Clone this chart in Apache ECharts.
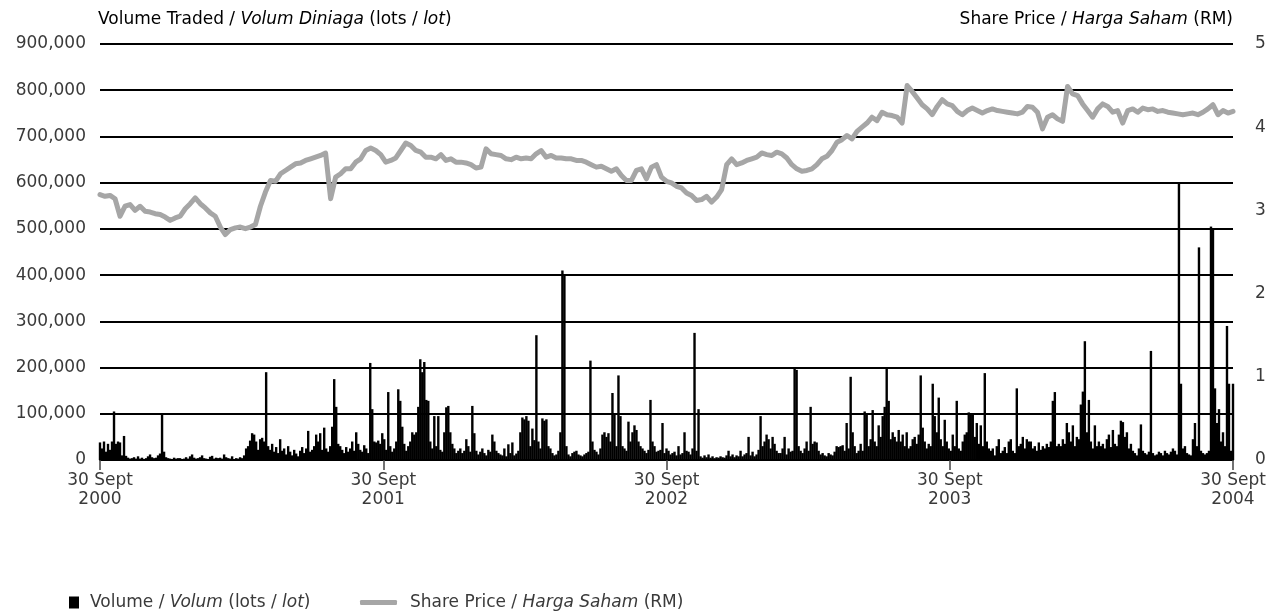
<!DOCTYPE html>
<html><head><meta charset="utf-8">
<script src="https://cdn.jsdelivr.net/npm/echarts@6.0.0/dist/echarts.min.js"></script>
<style>html,body{margin:0;padding:0;background:#fff}#c{width:1286px;height:614px}</style>
</head><body><div id="c"></div>
<script>
// x-axis tick labels (one per year)
const yearLabels = ['30 Sept\n2000', '30 Sept\n2001', '30 Sept\n2002', '30 Sept\n2003', '30 Sept\n2004'];

// Share price (RM), evenly spaced samples from 30 Sept 2000 to 30 Sept 2004
const priceRM = [
  3.19,3.17,3.18,3.14,2.93,3.05,3.07,3.00,3.05,2.99,
  2.98,2.96,2.95,2.92,2.88,2.91,2.93,3.02,3.08,3.15,
  3.08,3.03,2.97,2.93,2.80,2.71,2.77,2.79,2.80,2.78,
  2.80,2.83,3.05,3.22,3.36,3.35,3.44,3.48,3.52,3.56,
  3.57,3.60,3.62,3.64,3.66,3.69,3.14,3.40,3.44,3.50,
  3.50,3.58,3.62,3.72,3.75,3.72,3.67,3.58,3.60,3.63,
  3.72,3.81,3.78,3.72,3.70,3.64,3.64,3.62,3.67,3.60,
  3.62,3.58,3.58,3.57,3.55,3.51,3.52,3.74,3.68,3.67,
  3.66,3.62,3.61,3.64,3.62,3.63,3.62,3.68,3.72,3.64,
  3.66,3.63,3.63,3.62,3.62,3.60,3.60,3.58,3.55,3.52,
  3.53,3.50,3.47,3.50,3.42,3.36,3.36,3.48,3.50,3.38,
  3.52,3.55,3.40,3.35,3.33,3.29,3.27,3.21,3.18,3.12,
  3.13,3.17,3.10,3.16,3.25,3.55,3.62,3.55,3.57,3.60,
  3.62,3.64,3.69,3.67,3.66,3.70,3.68,3.63,3.55,3.50,
  3.47,3.48,3.50,3.55,3.62,3.65,3.72,3.82,3.85,3.90,
  3.86,3.95,4.00,4.05,4.12,4.08,4.18,4.15,4.14,4.12,
  4.05,4.50,4.43,4.35,4.27,4.22,4.15,4.25,4.33,4.28,
  4.26,4.19,4.15,4.20,4.23,4.20,4.17,4.20,4.22,4.20,
  4.19,4.18,4.17,4.16,4.18,4.25,4.24,4.18,3.98,4.12,
  4.15,4.10,4.07,4.49,4.40,4.38,4.28,4.20,4.12,4.22,
  4.28,4.25,4.18,4.20,4.05,4.20,4.22,4.18,4.23,4.21,
  4.22,4.19,4.20,4.18,4.17,4.16,4.15,4.16,4.17,4.15,
  4.18,4.22,4.27,4.15,4.20,4.17,4.19
];

// Volume traded, thousands of lots, evenly spaced samples over the same period
const volumeKLots = [
  38,25,40,18,35,22,40,105,35,40,38,10,52,9,5,3,4,6,3,8,
  3,5,2,4,8,12,6,4,5,10,14,100,18,6,4,3,2,5,3,4,
  4,2,3,6,3,8,12,5,3,4,6,10,4,3,2,7,9,3,5,4,
  5,3,12,6,4,3,8,2,4,3,6,4,10,25,30,42,58,55,40,22,
  45,48,40,190,30,22,35,18,28,15,45,20,25,12,30,18,10,22,14,8,
  20,28,15,25,63,18,22,30,55,40,58,22,70,25,18,30,72,175,115,35,
  30,22,15,28,18,25,40,20,60,35,22,18,32,25,15,210,110,40,38,42,
  35,58,45,22,147,30,18,25,40,153,128,72,35,20,30,40,60,55,60,115,
  218,190,212,130,128,40,25,95,30,95,22,18,60,114,117,60,35,25,15,20,
  25,15,20,45,30,18,117,58,20,12,18,25,15,10,22,18,55,40,20,15,
  12,10,25,8,34,15,38,10,14,20,60,92,88,95,85,30,68,43,270,40,
  25,90,85,88,30,25,15,10,12,20,60,410,400,30,12,8,15,18,20,12,
  10,8,12,15,18,215,40,22,18,12,25,55,60,50,58,40,145,100,30,183,
  95,30,25,20,83,40,60,75,65,40,30,25,20,15,22,130,40,30,18,20,
  22,80,15,25,20,12,15,18,10,30,12,15,60,20,18,12,25,275,20,110,
  8,5,10,6,12,5,8,4,6,5,8,6,5,10,20,8,12,6,10,8,
  20,8,12,15,50,10,18,8,12,22,95,30,40,55,45,25,50,35,20,15,
  15,25,50,12,25,18,20,200,195,30,20,15,25,40,20,115,35,40,38,20,
  12,15,10,8,15,12,10,18,30,28,30,32,20,80,25,180,60,30,15,20,
  35,20,105,100,30,45,108,40,30,75,50,95,115,200,128,45,60,50,40,65,
  40,55,30,60,25,30,45,50,35,55,183,70,40,25,35,30,165,95,60,135,
  45,30,87,40,25,20,55,30,128,25,20,40,55,60,103,100,98,50,80,35,
  75,30,188,40,25,20,25,10,30,45,15,20,28,15,40,45,20,15,155,30,
  35,50,25,45,40,40,25,30,20,38,22,30,25,35,28,40,128,147,30,35,
  30,45,35,80,60,40,75,30,50,45,120,148,257,60,130,40,25,75,30,40,
  30,35,25,45,55,28,65,35,30,55,85,82,50,60,25,35,20,15,10,25,
  77,20,15,12,18,236,15,10,12,18,15,10,20,15,12,18,25,20,12,600,
  165,25,30,15,12,10,45,80,30,460,20,15,12,15,20,505,500,155,80,110,
  40,60,30,290,165,20,165
];

const volName = 'Volume / Volum (lots / lot)';
const priceName = 'Share Price / Harga Saham (RM)';

const FONT = 'DejaVu Sans';
const TXT = '#3a3a3a';
const FS = 17;
const rich = {
  n: { fontFamily: FONT, fontSize: FS, color: TXT, fontWeight: 'normal' },
  i: { fontFamily: FONT, fontSize: FS, color: TXT, fontWeight: 'normal', fontStyle: 'italic' }
};

const chart = echarts.init(document.getElementById('c'), null, { renderer: 'canvas' });
const years = yearLabels.length - 1;

chart.setOption({
  animation: false,
  backgroundColor: '#fff',
  grid: { left: 100, right: 53, top: 44, bottom: 154 },
  graphic: [
    { type: 'text', left: 98, top: 11,
      style: { text: '{n|Volume Traded / }{i|Volum Diniaga}{n| (lots / }{i|lot}{n|)}', rich: rich } },
    { type: 'text', right: 53, top: 11,
      style: { text: '{n|Share Price / }{i|Harga Saham}{n| (RM)}', rich: rich } }
  ],
  legend: [
    { data: [volName], left: 64, top: 589, icon: 'rect', itemWidth: 10, itemHeight: 12,
      formatter: () => '{n|Volume / }{i|Volum}{n| (lots / }{i|lot}{n|)}',
      textStyle: { rich: rich, padding: [0, 0, 0, 6] } },
    { data: [priceName], left: 355, top: 589, icon: 'roundRect', itemWidth: 37, itemHeight: 5,
      formatter: () => '{n|Share Price / }{i|Harga Saham}{n| (RM)}',
      textStyle: { rich: rich, padding: [0, 0, 0, 8] } }
  ],
  xAxis: {
    type: 'value', min: 0, max: years, interval: 1,
    axisLine: { show: true, onZero: false, lineStyle: { color: '#000', width: 2 } },
    axisTick: { show: true, length: 10, lineStyle: { color: '#444', width: 1.5 } },
    axisLabel: { formatter: v => yearLabels[v], margin: 11, color: TXT, fontSize: FS, lineHeight: 19,
      fontFamily: FONT, showMinLabel: true, showMaxLabel: true },
    splitLine: { show: false }
  },
  yAxis: [
    { type: 'value', min: 0, max: 900000, interval: 100000,
      axisLine: { show: false }, axisTick: { show: false },
      splitLine: { lineStyle: { color: '#000', width: 2 } },
      axisLabel: { margin: 14, color: TXT, fontSize: FS, fontFamily: FONT,
        formatter: v => v.toLocaleString('en-US') } },
    { type: 'value', min: 0, max: 5, interval: 1, position: 'right',
      axisLine: { show: false }, axisTick: { show: false }, splitLine: { show: false },
      axisLabel: { margin: 22, color: TXT, fontSize: FS, fontFamily: FONT } }
  ],
  series: [
    { name: volName, type: 'bar', barWidth: 2.4,
      itemStyle: { color: '#000' },
      data: volumeKLots.map((v, i) => [i * years / (volumeKLots.length - 1), v * 1000]) },
    { name: priceName, type: 'line', yAxisIndex: 1, symbol: 'none', showSymbol: false,
      lineStyle: { color: '#a6a6a6', width: 5, join: 'round', cap: 'round' },
      itemStyle: { color: '#a6a6a6' },
      data: priceRM.map((p, i) => [i * years / (priceRM.length - 1), p]) }
  ]
});
</script>
</body></html>
